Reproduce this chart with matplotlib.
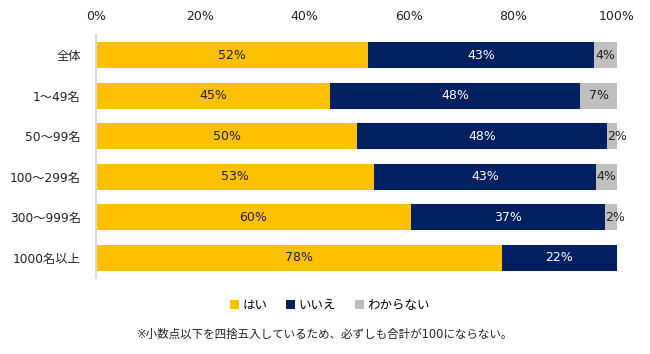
import matplotlib
matplotlib.use("Agg")
import matplotlib.pyplot as plt
from matplotlib.patches import Patch

plt.rcParams['font.family'] = ['DejaVu Sans', 'Noto Sans CJK JP']

categories = ["全体", "1～49名", "50～99名", "100～299名", "300～999名", "1000名以上"]
series_names = ["はい", "いいえ", "わからない"]
yes = [52.2, 44.9, 50.1, 53.4, 60.4, 77.9]
no = [43.4, 48.0, 48.0, 42.6, 37.3, 22.1]
unknown = [4.4, 7.1, 1.9, 4.0, 2.3, 0.0]
xticks = [0, 20, 40, 60, 80, 100]
xtick_labels = ["0%", "20%", "40%", "60%", "80%", "100%"]
note = "※小数点以下を四捨五入しているため、必ずしも合計が100にならない。"

colors = ["#FFC000", "#002060", "#BFBFBF"]
text_colors = ["#222222", "white", "#222222"]

fig = plt.figure(figsize=(6.5, 3.54), dpi=100)
ax = fig.add_axes([96/650, 1-278/354, (617-96)/650, (278-35)/354])

ypos = list(range(len(categories)))
left = [0.0]*len(categories)
for vals, c, tc in zip([yes, no, unknown], colors, text_colors):
    ax.barh(ypos, vals, left=left, height=0.65, color=c, edgecolor='none')
    for y, l, v in zip(ypos, left, vals):
        if v >= 0.5:
            if v < 3:
                ax.text(l + 0.1, y, f"{round(v):.0f}%", ha='left', va='center',
                        color=tc, fontsize=9)
            else:
                ax.text(l + v/2, y, f"{round(v):.0f}%", ha='center', va='center',
                        color=tc, fontsize=9)
    left = [a + b for a, b in zip(left, vals)]

ax.set_ylim(5.5, -0.5)
ax.set_xlim(0, 100)
ax.set_yticks(ypos)
ax.set_yticklabels(categories, fontsize=8.8, color="#222222")
ax.set_xticks(xticks)
ax.set_xticklabels(xtick_labels, fontsize=9, color="#222222")
ax.xaxis.tick_top()
ax.tick_params(axis='both', length=0)
ax.tick_params(axis='x', pad=9)
ax.tick_params(axis='y', pad=11)
for s in ['top', 'right', 'bottom']:
    ax.spines[s].set_visible(False)
ax.spines['left'].set_color('#D9D9D9')
ax.spines['left'].set_linewidth(1.5)

handles = [Patch(facecolor=c, edgecolor='none') for c in colors]
fig.legend(handles, series_names, loc='center', bbox_to_anchor=(330/650, 1-305/354),
           ncol=3, frameon=False, fontsize=9, handlelength=0.7, handleheight=0.7,
           handletextpad=0.3, columnspacing=1.5)
fig.text(325/650, 1-334/354, note, ha='center', va='center', fontsize=8.3, color="#222222")

fig.savefig("out.png", dpi=100)
